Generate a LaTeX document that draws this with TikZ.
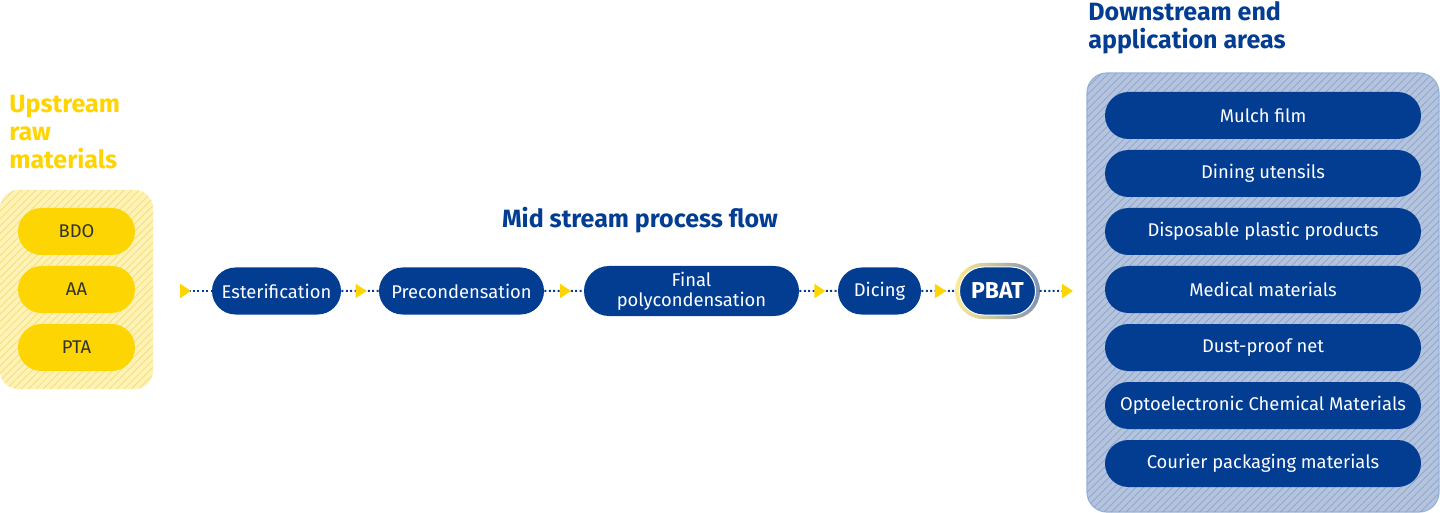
\documentclass[tikz,border=0pt]{standalone}
\usepackage{fontspec}
\setmainfont{Fira Sans}
\usetikzlibrary{shapes.misc,patterns.meta,decorations.markings,arrows.meta,backgrounds}

\definecolor{pblue}{HTML}{023D92}
\definecolor{rawyel}{HTML}{FDD503}
\definecolor{titleyel}{HTML}{FFD400}
\definecolor{rawpale}{HTML}{FFF2B5}
\definecolor{rawhatch}{HTML}{F2DB7A}
\definecolor{rawtxt}{HTML}{333333}
\definecolor{boxblue}{HTML}{B4C4DE}
\definecolor{boxhatch}{HTML}{8DA2C6}
\definecolor{boxedge}{HTML}{97B2D8}

\tikzset{
  pill/.style={rounded rectangle, fill=pblue, text=white, minimum height=23.5pt,
    inner sep=0pt, font=\fontsize{9.2}{10}\selectfont},
  rawpill/.style={pill, fill=rawyel, text=rawtxt, minimum width=58.5pt},
  apppill/.style={pill, minimum width=158pt},
  title/.style={font=\fontsize{12.5}{14}\selectfont\bfseries, inner sep=0pt},
  dotline/.style={pblue, line width=1pt, dash pattern=on 1pt off 1.2pt},
  flow/.style={dotline, postaction={decorate},
    decoration={markings, mark=at position #1 with {\arrow{Triangle[length=5.5pt,width=7pt,color=rawyel]}}}}
}

\begin{document}
\begin{tikzpicture}[x=0.5pt, y=-0.5pt]
  \useasboundingbox (0,0) rectangle (1440,513);

  % upstream
  \node[title, text=titleyel, anchor=north west, align=left] (uptitle) at (9,95) {Upstream\\raw\\materials};
  \draw[draw=none, fill=rawpale, rounded corners=9pt,
    postaction={pattern={Lines[angle=45,distance=2.6pt,line width=0.35pt]}, pattern color=rawhatch}]
    (0,190) rectangle (153,389);
  \foreach \txt [count=\i] in {BDO, AA, PTA}
    \node[rawpill] (raw\i) at (76.5,173.5+58*\i) {\txt};

  % mid stream
  \node[title, text=pblue, anchor=base] (midtitle) at (640,228) {Mid stream process flow};
  \node[pill, minimum width=64.5pt] (ester) at (276.5,291) {Esterification};
  \node[pill, minimum width=82.5pt] (precond) at (461.5,291) {Precondensation};
  \node[pill, minimum width=107.5pt, minimum height=25pt, align=center] (final) at (691.5,291) {Final\\polycondensation};
  \node[pill, minimum width=41.5pt] (dicing) at (879.5,291) {Dicing};
  \node[pill, minimum width=38pt, minimum height=24pt, outer sep=2pt, draw=white, line width=0.5pt,
    font=\fontsize{11.5}{13}\selectfont\bfseries] (pbat) at (997.5,291) {PBAT};
  \begin{scope}[on background layer]
    \node[rounded rectangle, minimum width=42.5pt, minimum height=28pt, inner sep=0pt,
      left color=rawpale!80!rawyel, right color=boxhatch!90!black] (pbatring) at (pbat) {};
  \end{scope}

  \coordinate (in) at (180,291);
  \coordinate (out) at (1073,291);
  \draw[dotline, {Triangle[reversed,length=5.5pt,width=7pt,color=rawyel]}-] (in) -- (ester);
  \draw[flow=0.68] (ester) -- (precond);
  \draw[flow=0.68] (precond) -- (final);
  \draw[flow=0.68] (final) -- (dicing);
  \draw[flow=0.72] (dicing) -- (pbat);
  \draw[dotline, -{Triangle[length=5.5pt,width=7pt,color=rawyel]}] (pbat) -- (out);

  % downstream
  \node[title, text=pblue, anchor=north west, align=left] (downtitle) at (1088,1) {Downstream end\\application areas};
  \draw[draw=boxedge, line width=0.6pt, fill=boxblue, rounded corners=10pt,
    postaction={pattern={Lines[angle=45,distance=2.6pt,line width=0.35pt]}, pattern color=boxhatch}]
    (1087,73) rectangle (1439,512);
  \foreach \txt [count=\i] in {Mulch film, Dining utensils, Disposable plastic products, Medical materials,
      Dust-proof net, Optoelectronic Chemical Materials, Courier packaging materials}
    \node[apppill] (app\i) at (1263,57.5+58*\i) {\txt};
\end{tikzpicture}
\end{document}
